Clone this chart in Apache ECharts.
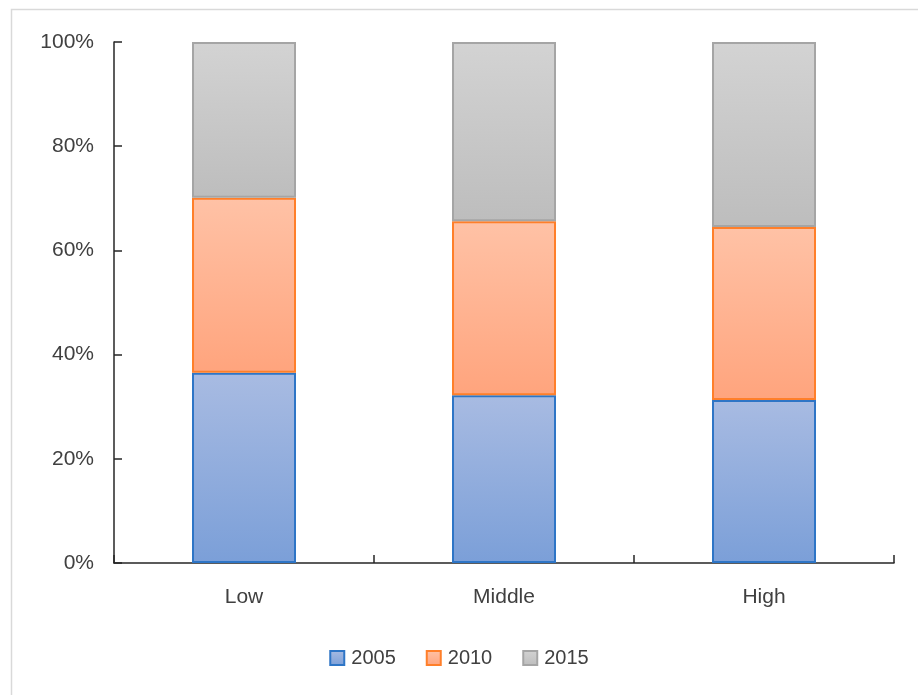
<!DOCTYPE html>
<html>
<head>
<meta charset="utf-8">
<script src="https://cdn.jsdelivr.net/npm/echarts@6/dist/echarts.min.js"></script>
<style>
  html, body { margin: 0; padding: 0; background: #fff; }
  #chart { width: 918px; height: 695px; }
</style>
</head>
<body>
<div id="chart"></div>
<script>
'use strict';

// categories and shares (%)
var categories = ['Low', 'Middle', 'High'];
var years = ['2005', '2010', '2015'];
var share2005 = [36.5, 32.2, 31.3];
var share2010 = [33.6, 33.4, 33.2];
var share2015 = [29.9, 34.4, 35.5];

var FONT = 'Liberation Sans';

function grad(top, bottom) {
    return new echarts.graphic.LinearGradient(0, 0, 0, 1, [
        { offset: 0, color: top },
        { offset: 1, color: bottom }
    ]);
}

function makeSeries(name, data, top, bottom, border) {
    return {
        name: name,
        type: 'bar',
        stack: 'total',
        barWidth: '40%',
        data: data,
        itemStyle: { color: grad(top, bottom), borderColor: border, borderWidth: 2 }
    };
}

var chart = echarts.init(document.getElementById('chart'));
chart.setOption({
    animation: false,
    textStyle: { fontFamily: FONT },
    graphic: [{
        type: 'rect',
        shape: { x: 11.5, y: 9.5, width: 1000, height: 1000 },
        style: { fill: 'none', stroke: '#d9d9d9', lineWidth: 1.5 },
        silent: true
    }],
    grid: { left: 114, right: 24, top: 42, bottom: 132 },
    legend: {
        bottom: 22,
        left: 'center',
        icon: 'rect',
        itemWidth: 14,
        itemHeight: 14,
        itemGap: 30,
        textStyle: { fontSize: 20, color: '#404040', fontFamily: FONT, padding: [0, 0, 0, 2] },
        data: years
    },
    xAxis: {
        type: 'category',
        data: categories,
        axisLine: { lineStyle: { color: '#262626', width: 1.5 } },
        axisTick: { show: true, inside: true, length: 8, lineStyle: { color: '#262626', width: 1.5 } },
        axisLabel: { fontSize: 21, color: '#404040', margin: 24 }
    },
    yAxis: {
        type: 'value',
        min: 0,
        max: 100,
        interval: 20,
        axisLine: { show: true, lineStyle: { color: '#262626', width: 1.5 } },
        axisTick: { show: true, inside: true, length: 8, lineStyle: { color: '#262626', width: 1.5 } },
        splitLine: { show: false },
        axisLabel: { fontSize: 21, color: '#404040', margin: 20, formatter: '{value}%' }
    },
    series: [
        makeSeries(years[0], share2005, '#a8bbe2', '#7b9fd8', '#2e75c6'),
        makeSeries(years[1], share2010, '#ffc2a6', '#ffa47d', '#ff7f2a'),
        makeSeries(years[2], share2015, '#d3d3d3', '#bdbdbd', '#a5a5a5')
    ]
});
</script>
</body>
</html>
